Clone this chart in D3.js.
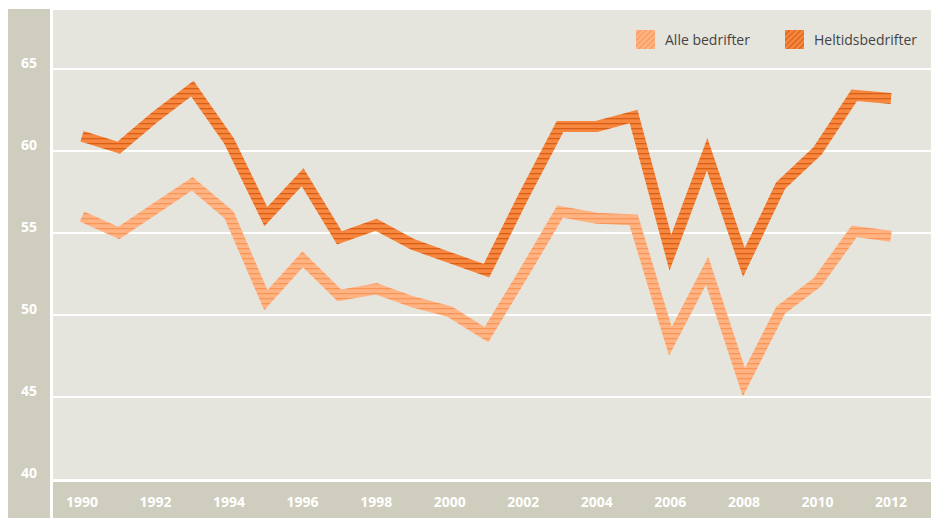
<!DOCTYPE html>
<html>
<head>
<meta charset="utf-8">
<script src="https://cdn.jsdelivr.net/npm/d3@7"></script>
<style>
  body { margin: 0; background: #fff; }
  svg { display: block; }
</style>
</head>
<body>
<div id="chart"></div>
<script>
const years = d3.range(1990, 2013);
const alle = [56.0, 55.0, 56.5, 58.0, 56.1, 50.9, 53.4, 51.2, 51.6, 50.8, 50.2, 48.8,
    52.5, 56.3, 55.9, 55.8, 48.4, 52.7, 45.9, 50.3, 52.0, 55.1, 54.8];
const heltid = [60.9, 60.2, 62.1, 63.8, 60.6, 56.0, 58.4, 54.7, 55.5, 54.3, 53.5, 52.7,
    57.2, 61.5, 61.5, 62.1, 53.8, 59.8, 53.2, 57.9, 60.0, 63.4, 63.2];
const yTicks = [40, 45, 50, 55, 60, 65];
const xTicks = [1990, 1992, 1994, 1996, 1998, 2000, 2002, 2004, 2006, 2008, 2010, 2012];
const seriesNames = ['Alle bedrifter', 'Heltidsbedrifter'];

const width = 931, height = 518;

const svg = d3.select('#chart').append('svg')
    .attr('width', width)
    .attr('height', height);

const x = d3.scaleLinear().domain([1990, 2012]).range([82, 891]);
const y = d3.scaleLinear().domain([40, 65]).range([479, 69]);

const colors = [
    { base: '#ffb382', stripe: '#f8965a' },
    { base: '#f7873e', stripe: '#d95f17' }
];

const defs = svg.append('defs');
colors.forEach((c, i) => {
    // horizontal stripes for the lines
    const p = defs.append('pattern')
        .attr('id', 'stripes' + i)
        .attr('patternUnits', 'userSpaceOnUse')
        .attr('width', 10).attr('height', 5);
    p.append('rect').attr('width', 10).attr('height', 5).attr('fill', c.base);
    p.append('rect').attr('y', 3).attr('width', 10).attr('height', 1.3).attr('fill', c.stripe);

    // diagonal stripes for legend swatches
    const q = defs.append('pattern')
        .attr('id', 'diag' + i)
        .attr('patternUnits', 'userSpaceOnUse')
        .attr('width', 4).attr('height', 4)
        .attr('patternTransform', 'rotate(45)');
    q.append('rect').attr('width', 4).attr('height', 4).attr('fill', c.base);
    q.append('rect').attr('x', 2.8).attr('width', 1.2).attr('height', 4).attr('fill', c.stripe);
});

// panels
svg.append('rect').attr('x', 8).attr('y', 9).attr('width', 42).attr('height', height - 9).attr('fill', '#cfcdbd');
svg.append('rect').attr('x', 53).attr('y', 10).attr('width', width - 53).attr('height', 469).attr('fill', '#e6e5dd');
svg.append('rect').attr('x', 53).attr('y', 482).attr('width', width - 53).attr('height', height - 482).attr('fill', '#cfcdbd');

// grid
svg.append('g')
    .selectAll('line')
    .data(yTicks.filter(d => d > 40))
    .enter().append('line')
    .attr('x1', 53).attr('x2', width)
    .attr('y1', d => y(d)).attr('y2', d => y(d))
    .attr('stroke', '#fff')
    .attr('stroke-width', 2);

// y labels
svg.append('g')
    .selectAll('text')
    .data(yTicks)
    .enter().append('text')
    .attr('x', 29)
    .attr('y', d => y(d) - 1)
    .attr('text-anchor', 'middle')
    .style('font-family', "'Open Sans', sans-serif")
    .style('font-weight', 'bold')
    .style('font-size', '14px')
    .attr('fill', '#fff')
    .text(d => d);

// x labels
svg.append('g')
    .selectAll('text')
    .data(xTicks)
    .enter().append('text')
    .attr('x', d => x(d))
    .attr('y', 507)
    .attr('text-anchor', 'middle')
    .style('font-family', "'Open Sans', sans-serif")
    .style('font-weight', 'bold')
    .style('font-size', '14px')
    .attr('fill', '#fff')
    .text(d => d);

// lines
const line = d3.line()
    .x((d, i) => x(years[i]))
    .y(d => y(d));

[alle, heltid].forEach((s, i) => {
    svg.append('path')
        .datum(s)
        .attr('d', line)
        .attr('fill', 'none')
        .attr('stroke', `url(#stripes${i})`)
        .attr('stroke-width', 11)
        .attr('stroke-linejoin', 'miter')
        .attr('stroke-miterlimit', 10)
        .attr('stroke-linecap', 'butt');
});

// legend
const legendX = [636, 785];
const legend = svg.append('g')
    .selectAll('g')
    .data(seriesNames)
    .enter().append('g')
    .attr('transform', (d, i) => `translate(${legendX[i]}, 30)`);

legend.append('rect')
    .attr('width', 19).attr('height', 19)
    .attr('fill', (d, i) => `url(#diag${i})`);

legend.append('text')
    .attr('x', 29).attr('y', 15)
    .style('font-family', "'Open Sans', sans-serif")
    .style('font-size', '14px')
    .attr('fill', '#444')
    .text(d => d);
</script>
</body>
</html>
